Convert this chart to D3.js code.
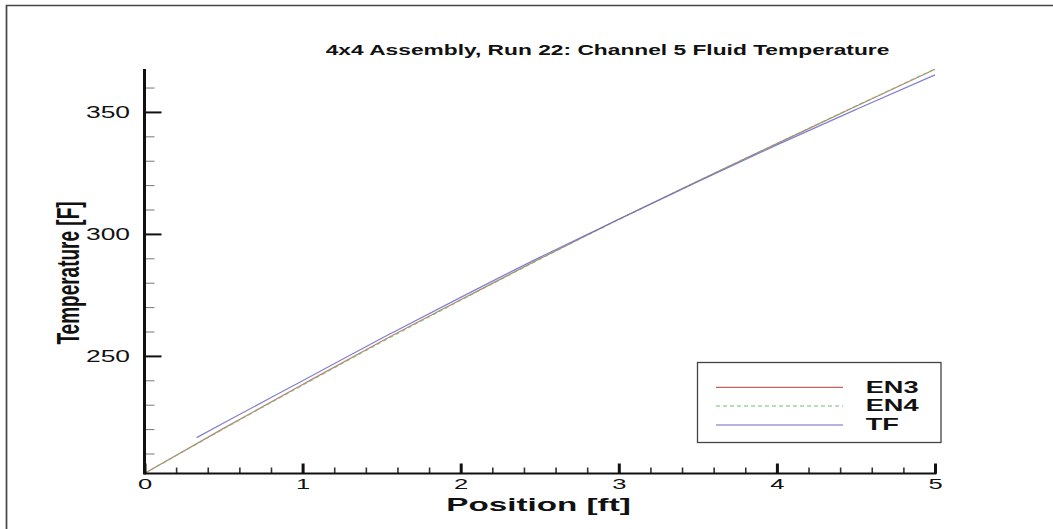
<!DOCTYPE html>
<html>
<head>
<meta charset="utf-8">
<script src="https://cdn.jsdelivr.net/npm/d3@7"></script>
<style>
  body { margin: 0; background: #fff; }
  text { font-family: "Liberation Sans", Arial, sans-serif; }
</style>
</head>
<body>
<div id="chart"></div>
<script>
// Data
const positions = [0, 0.5, 1, 1.5, 2, 2.5, 3, 3.5, 4, 4.5, 5]
const en3_values = [201.8, 220.3, 238.3, 256.0, 273.0, 289.8, 306.0, 321.7, 337.0, 352.3, 367.5]
const en4_values = [201.8, 220.1, 238.0, 255.7, 272.8, 289.6, 305.9, 321.6, 337.1, 352.4, 367.6]
const tf_positions = [0.33, 0.5, 1, 1.5, 2, 2.5, 3, 3.5, 4, 4.5, 5]
const tf_values = [216.5, 222.5, 239.8, 257.2, 274.0, 290.4, 306.0, 321.4, 336.5, 351.0, 365.2]
const series_names = ["EN3", "EN4", "TF"]
const x_ticks = [0, 1, 2, 3, 4, 5]
const y_ticks = [250, 300, 350]

const width = 1053
const height = 529
const stretch = 1.65   // the picture is stretched sideways

const series = [
  { name: series_names[0], x: positions, y: en3_values, color: "#c06262", dash: null },
  { name: series_names[1], x: positions, y: en4_values, color: "#6cbf6c", dash: "4,3" },
  { name: series_names[2], x: tf_positions, y: tf_values, color: "#6a6ac8", dash: null }
]

var svg = d3.select("#chart")
  .append("svg")
  .attr("width", width)
  .attr("height", height)

// Frame (top and left edge only)
svg.append("path")
  .attr("d", `M6.5,${height} L6.5,5.5 L${width},5.5`)
  .attr("fill", "none")
  .attr("stroke", "#444")
  .attr("stroke-width", 1.7)

// Scales
var all_y = en3_values.concat(en4_values, tf_values)
var x_scale = d3.scaleLinear()
  .domain([0, 5])
  .range([144.5, 935])
var y_scale = d3.scaleLinear()
  .domain(d3.extent(all_y))
  .range([473.5, 69])

var x0 = x_scale.range()[0]
var y0 = y_scale.range()[0]

// Lines
var line = d3.line()
  .x(d => x_scale(d[0]))
  .y(d => y_scale(d[1]))
  .curve(d3.curveMonotoneX)

var lines = svg.append("g").attr("class", "lines")
series.forEach(s => {
  lines.append("path")
    .datum(s.x.map((v, i) => [v, s.y[i]]))
    .attr("d", line)
    .attr("fill", "none")
    .attr("stroke", s.color)
    .attr("stroke-width", 1.2)
    .attr("stroke-dasharray", s.dash)
    .attr("opacity", 0.85)
})

// Y axis: minor ticks
var y_minor = d3.range(210, 370, 10).filter(v => y_ticks.indexOf(v) < 0)
svg.append("g")
  .attr("transform", `translate(${x0},0)`)
  .call(d3.axisRight(y_scale).tickValues(y_minor).tickSize(10).tickFormat(""))
  .call(g => g.select(".domain").remove())
  .call(g => g.selectAll("line").attr("stroke", "#777").attr("stroke-width", 1))
// Y axis: major ticks
svg.append("g")
  .attr("transform", `translate(${x0},0)`)
  .call(d3.axisRight(y_scale).tickValues(y_ticks).tickSize(17).tickFormat(""))
  .call(g => g.select(".domain").remove())
  .call(g => g.selectAll("line").attr("stroke", "#111").attr("stroke-width", 2))
// Y axis: labels
svg.append("g")
  .attr("transform", `translate(${x0},0)`)
  .call(d3.axisLeft(y_scale).tickValues(y_ticks).tickSize(0).tickPadding(0))
  .call(g => g.select(".domain").remove())
  .call(g => g.selectAll("text")
    .attr("x", -14.5 / stretch)
    .attr("transform", `scale(${stretch},1)`)
    .attr("font-size", 16)
    .attr("font-family", "Liberation Sans, Arial, sans-serif")
    .attr("fill", "#111"))

// X axis: minor ticks
var x_minor = d3.range(0.2, 5, 0.2).filter(v => Math.abs(v - Math.round(v)) > 0.01)
svg.append("g")
  .attr("transform", `translate(0,${y0})`)
  .call(d3.axisTop(x_scale).tickValues(x_minor).tickSize(6).tickFormat(""))
  .call(g => g.select(".domain").remove())
  .call(g => g.selectAll("line").attr("stroke", "#333").attr("stroke-width", 1.6))
// X axis: major ticks
svg.append("g")
  .attr("transform", `translate(0,${y0})`)
  .call(d3.axisTop(x_scale).tickValues(x_ticks).tickSize(10).tickFormat(""))
  .call(g => g.select(".domain").remove())
  .call(g => g.selectAll("line").attr("stroke", "#111").attr("stroke-width", 3))
// X axis: labels
svg.append("g")
  .attr("transform", `translate(0,${y0})`)
  .call(d3.axisBottom(x_scale).tickValues(x_ticks).tickSize(0).tickPadding(5).tickFormat(d3.format("d")))
  .call(g => g.select(".domain").remove())
  .call(g => g.selectAll("text")
    .attr("transform", `scale(${stretch},1)`)
    .attr("font-size", 15.5)
    .attr("font-family", "Liberation Sans, Arial, sans-serif")
    .attr("fill", "#111"))

// Axis lines
svg.append("line")
  .attr("x1", x0).attr("x2", x0)
  .attr("y1", y_scale.range()[1]).attr("y2", y0 + 1)
  .attr("stroke", "#111").attr("stroke-width", 3)
svg.append("line")
  .attr("x1", x0).attr("x2", x_scale.range()[1] + 1.5)
  .attr("y1", y0).attr("y2", y0)
  .attr("stroke", "#111").attr("stroke-width", 2)

// Title and axis labels
function stretched_text(x, y, sx, str, size) {
  return svg.append("text")
    .attr("transform", `translate(${x},${y}) scale(${sx},1)`)
    .attr("text-anchor", "middle")
    .attr("font-weight", "bold")
    .attr("font-size", size)
    .attr("fill", "#111")
    .text(str)
}
stretched_text(607.5, 54.5, 1.57, "4x4 Assembly, Run 22: Channel 5 Fluid Temperature", 14.5)
stretched_text(538.5, 510.5, 1.75, "Position [ft]", 19)
svg.append("text")
  .attr("transform", `translate(79.4,273) scale(${stretch},1) rotate(-90)`)
  .attr("text-anchor", "middle")
  .attr("font-weight", "bold")
  .attr("font-size", 19)
  .attr("fill", "#111")
  .text("Temperature [F]")

// Legend
var legend = svg.append("g").attr("class", "legend")
legend.append("rect")
  .attr("x", 697.5).attr("y", 362.5)
  .attr("width", 243.5).attr("height", 80)
  .attr("fill", "#fff")
  .attr("stroke", "#444")
  .attr("stroke-width", 1.3)
var legend_rows = [387.3, 406, 425]
series.forEach((s, i) => {
  legend.append("line")
    .attr("x1", 716).attr("x2", 843)
    .attr("y1", legend_rows[i]).attr("y2", legend_rows[i])
    .attr("stroke", s.color)
    .attr("stroke-width", 1.2)
    .attr("stroke-dasharray", s.dash)
  legend.append("text")
    .attr("transform", `translate(865.7,${legend_rows[i] + 5.3}) scale(1.7,1)`)
    .attr("font-weight", "bold")
    .attr("font-size", 16)
    .attr("fill", "#111")
    .text(s.name)
})
</script>
</body>
</html>
